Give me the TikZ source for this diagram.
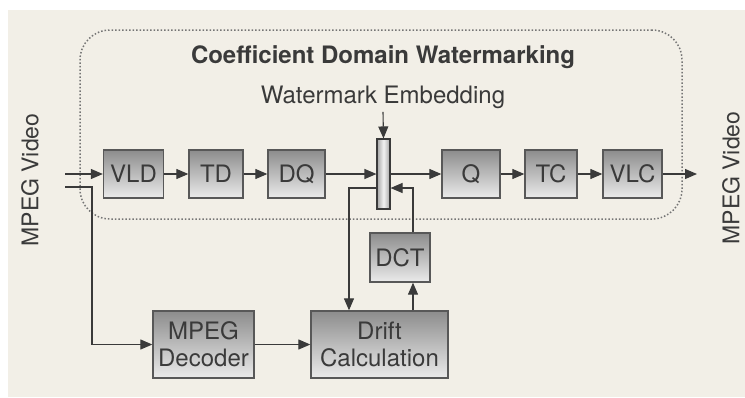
\documentclass[tikz,border=0pt]{standalone}
\usepackage{fontspec}
\setmainfont{TeX Gyre Heros}
\usetikzlibrary{arrows.meta}
\definecolor{paper}{HTML}{F2EFE7}
\definecolor{ink}{HTML}{3A3A3A}
\begin{document}
\begin{tikzpicture}[x=1pt,y=-1pt,
	blok/.style={draw=ink!85,line width=1.3pt,top color=black!45,bottom color=black!8,
		minimum height=48pt,inner sep=0pt,text=ink,font=\fontsize{24}{27}\selectfont,align=center},
	fio/.style={draw=ink,line width=1.1pt},
	seta/.style={fio,-{Triangle[length=12pt,width=10pt]}},
	rotulo/.style={text=ink,font=\fontsize{24}{27}\selectfont}]
	\useasboundingbox (0,0) rectangle (745,397);
	\fill[white] (0,0) rectangle (745,397);
	\fill[paper] (8,10) rectangle (745,397);
	% moldura pontilhada
	\node[draw=ink!70,dotted,line width=1.5pt,rounded corners=30pt,minimum width=602pt,minimum height=189pt] (quadro) at (381,124.5) {};
	\node[rotulo,font=\fontsize{24}{27}\selectfont\bfseries] (titulo) at (383,57) {Coefficient Domain Watermarking};
	\node[rotulo] (marca) at (383,97) {Watermark Embedding};
	\node[rotulo,rotate=90,font=\fontsize{23}{26}\selectfont] (entrada) at (30,180) {MPEG Video};
	\node[rotulo,rotate=90,font=\fontsize{23}{26}\selectfont] (saida) at (731,178) {MPEG Video};
	% blocos
	\node[blok,minimum width=60pt] (vld) at (133.5,174) {VLD};
	\node[blok,minimum width=54pt] (td) at (216,174) {TD};
	\node[blok,minimum width=57pt] (dq) at (296.5,174) {DQ};
	\node[draw=ink,line width=1.1pt,left color=black!35,right color=black!35,middle color=black!5,
		minimum width=13pt,minimum height=70pt,inner sep=0pt] (mix) at (383.5,174) {};
	\node[blok,minimum width=58pt] (q) at (471,174) {Q};
	\node[blok,minimum width=52pt] (tc) at (551,174) {TC};
	\node[blok,minimum width=59pt] (vlc) at (632.5,174) {VLC};
	\node[blok,minimum width=60pt,minimum height=49pt] (dct) at (400,257.5) {DCT};
	\node[blok,minimum width=101pt,minimum height=67pt] (dec) at (203.5,344.5) {MPEG\\Decoder};
	\node[blok,minimum width=137pt,minimum height=67pt] (drift) at (379.5,344.5) {Drift\\Calculation};
	\coordinate (in1) at (65,174);
	\coordinate (in2) at (65,187);
	\coordinate (out) at (697,174);
	% ligacoes
	\draw[seta] (in1) -- (vld);
	\draw[seta] (vld) -- (td);
	\draw[seta] (td) -- (dq);
	\draw[seta] (dq) -- (mix);
	\draw[seta] (mix) -- (q);
	\draw[seta] (q) -- (tc);
	\draw[seta] (tc) -- (vlc);
	\draw[seta] (vlc) -- (out);
	\draw[seta] (marca.south) -- (mix.north);
	\draw[seta] (in2) -- ++(27,0) |- (dec.west);
	\draw[seta] (dec) -- (drift);
	\draw[seta] ([xshift=13pt]dct.south |- drift.north) -- ([xshift=13pt]dct.south);
	\draw[seta] ([xshift=13pt]dct.north) |- ([yshift=-14pt]mix.east);
	\draw[seta] ([yshift=-14pt]mix.west) -| ([xshift=-30.5pt]drift.north);
\end{tikzpicture}
\end{document}
